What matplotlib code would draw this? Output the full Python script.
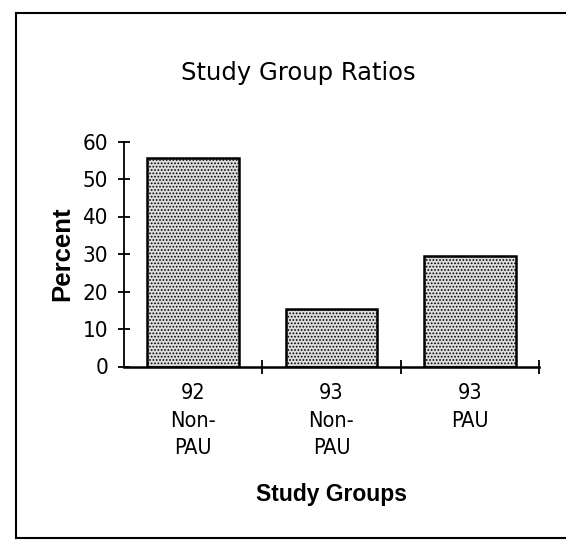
import matplotlib
matplotlib.use("Agg")
import matplotlib.pyplot as plt
from matplotlib.lines import Line2D
from matplotlib import font_manager as fm

categories = ["92\nNon-\nPAU", "93\nNon-\nPAU", "93\nPAU"]
values = [55.5, 15.3, 29.5]
yticks = [0, 10, 20, 30, 40, 50, 60]

W, H = 566, 540
fig = plt.figure(figsize=(W / 100, H / 100), dpi=100)
plt.rcParams['hatch.linewidth'] = 0.8
narrow = ['DejaVu Sans']


def bold_props(size):
    for f in fm.fontManager.ttflist:
        if (f.name == 'Liberation Sans' and f.weight in (700, 'bold') and f.style == 'normal'
                and 'Narrow' not in f.fname):
            return fm.FontProperties(fname=f.fname, size=size)
    return fm.FontProperties(family='DejaVu Sans', weight='bold', size=size * 0.85)


ax = fig.add_axes([124 / W, 1 - 366.5 / H, (539 - 124) / W, (366.5 - 141.5) / H])
x = list(range(len(categories)))
ax.bar(x, values, width=0.665, color='#dcdcdc', edgecolor='black', linewidth=1.8, hatch='.....')
ax.set_xlim(-0.5, 2.5)
ax.set_ylim(0, 60)
for s in ['top', 'right']:
    ax.spines[s].set_visible(False)
ax.spines['left'].set_linewidth(1.3)
ax.spines['bottom'].set_linewidth(1.8)
ax.set_yticks(yticks)
ax.set_yticklabels([str(v) for v in yticks], family=narrow, fontsize=16, stretch='condensed')
ax.tick_params(axis='y', direction='inout', length=9, width=1.3, pad=7)
ax.set_xticks([0.5, 1.5, 2.5])
ax.set_xticklabels([])
ax.tick_params(axis='x', direction='inout', length=10, width=1.3)
for xi, lab in zip(x, categories):
    ax.text(xi, -4.4, lab, ha='center', va='top', family=narrow, fontsize=15.5, linespacing=1.48,
            stretch='condensed', transform=ax.transData)

ax.set_ylabel("Percent", fontproperties=bold_props(18.5), labelpad=6)
fig.text(298 / W, 1 - 73 / H, "Study Group Ratios", ha='center', va='center', fontsize=17.5,
         family='DejaVu Sans')
fig.text(332 / W, 1 - 495 / H, "Study Groups", ha='center', va='center',
         fontproperties=bold_props(16.5))

# frame (top, left, bottom)
fig.add_artist(Line2D([15.5 / W, 1], [1 - 12.5 / H] * 2, color='black', lw=1.5, transform=fig.transFigure))
fig.add_artist(Line2D([15.5 / W] * 2, [1 - 12.5 / H, 1 - 537.5 / H], color='black', lw=1.5, transform=fig.transFigure))
fig.add_artist(Line2D([15.5 / W, 1], [1 - 537.5 / H] * 2, color='black', lw=1.5, transform=fig.transFigure))

fig.savefig("out.png", dpi=100)
